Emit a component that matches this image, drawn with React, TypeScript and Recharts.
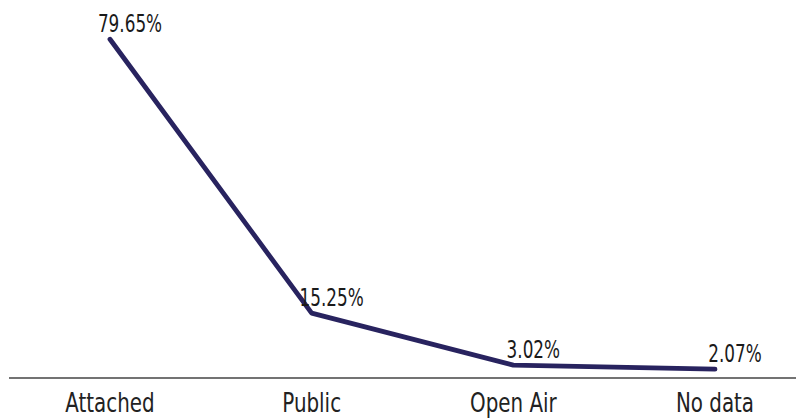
import { LineChart, Line, XAxis, YAxis, LabelList } from 'recharts';

const categories = ['Attached', 'Public', 'Open Air', 'No data'];
const shares = [79.65, 15.25, 3.02, 2.07];

const chartData = categories.map((name, i) => ({ name, value: shares[i] }));

const FONT = '"DejaVu Sans Condensed", "Liberation Sans Narrow", sans-serif';

// narrow the condensed face a bit more so it reads like the original
function ValueLabel(props: any) {
  const { x, y, value } = props;
  return (
    <text
      transform={`translate(${x + 20}, ${y - 7}) scale(0.78, 1)`}
      textAnchor="middle"
      fill="#1a1a1a"
      fontSize={24}
      fontFamily={FONT}
    >
      {`${value.toFixed(2)}%`}
    </text>
  );
}

function CategoryTick(props: any) {
  const { x, y, payload } = props;
  return (
    <text
      transform={`translate(${x}, ${y + 34}) scale(0.85, 1)`}
      textAnchor="middle"
      fill="#222"
      fontSize={26}
      fontFamily={FONT}
    >
      {payload.value}
    </text>
  );
}

export default function App() {
  return (
    <div style={{ width: 796, height: 410, overflow: 'hidden' }}>
      <LineChart
        width={808}
        height={410}
        data={chartData}
        margin={{ top: 0, right: 0, bottom: 0, left: 1 }}
      >
        <XAxis
          dataKey="name"
          height={40}
          padding={{ left: 101, right: 101 }}
          axisLine={{ stroke: '#444', strokeWidth: 1.5 }}
          tickLine={false}
          tickSize={0}
          tickMargin={0}
          interval={0}
          tick={<CategoryTick />}
        />
        <YAxis hide domain={[0, 87]} />
        <Line
          type="linear"
          dataKey="value"
          stroke="#28235f"
          strokeWidth={4.8}
          strokeLinecap="round"
          strokeLinejoin="round"
          dot={false}
          activeDot={false}
          isAnimationActive={false}
        >
          <LabelList dataKey="value" content={<ValueLabel />} />
        </Line>
      </LineChart>
    </div>
  );
}
